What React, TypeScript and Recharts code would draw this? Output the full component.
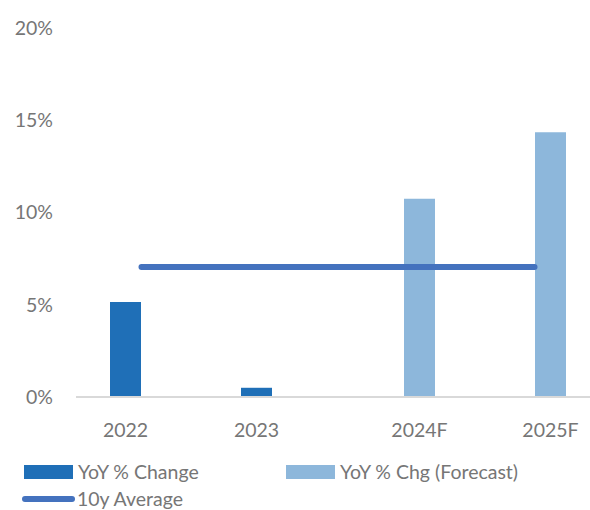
import React from 'react';
import { ComposedChart, Bar, Line, XAxis, YAxis } from 'recharts';

const categories = ['2022', '2023', '2024F', '2025F'];
const yoyChange: (number | null)[] = [5.15, 0.5, null, null];
const yoyForecast: (number | null)[] = [null, null, 10.75, 14.35];
const tenYearAvg = [7.05, 7.05, 7.05, 7.05];
const yTicks = [0, 5, 10, 15, 20];
const legendLabels = ['YoY % Change', 'YoY % Chg (Forecast)', '10y Average'];

const data = categories.map((c, i) => ({
  name: c,
  actual: yoyChange[i],
  forecast: yoyForecast[i],
  avg: tenYearAvg[i],
}));

const DARK = '#1F6FB7';
const LIGHT = '#8DB7DB';
const LINE = '#4472BE';
const TEXT = '#767676';
const FONT = 'Lato, sans-serif';
const FS = 19.5;
const BAR = 31;
const GAP = 1;

const XTick = (props: any) => {
  const { x, y, payload, index } = props;
  const i = index ?? categories.indexOf(payload.value);
  const off = (BAR + GAP) / 2;
  const dx = yoyChange[i] != null ? -off : off;
  return (
    <text x={x + dx} y={y} dy="0.71em" textAnchor="middle" fill={TEXT} fontSize={FS} fontFamily={FONT}>
      {payload.value}
    </text>
  );
};

const LegendBlock = () => (
  <div style={{ position: 'absolute', left: 0, top: 440, width: 590, height: 70, fontFamily: FONT, fontSize: FS, color: TEXT, whiteSpace: 'nowrap' }}>
    <div style={{ position: 'absolute', left: 24, top: 25, width: 49, height: 14, background: DARK }} />
    <div style={{ position: 'absolute', left: 78, top: 19.5, lineHeight: '24px' }}>{legendLabels[0]}</div>
    <div style={{ position: 'absolute', left: 286, top: 25, width: 49, height: 14, background: LIGHT }} />
    <div style={{ position: 'absolute', left: 340, top: 19.5, lineHeight: '24px' }}>{legendLabels[1]}</div>
    <div style={{ position: 'absolute', left: 22, top: 55.5, width: 53, height: 6, borderRadius: 3, background: LINE }} />
    <div style={{ position: 'absolute', left: 77, top: 46.5, lineHeight: '24px' }}>{legendLabels[2]}</div>
  </div>
);

export default function App() {
  return (
    <div style={{ position: 'fixed', left: 0, top: 0, width: 590, height: 510, overflow: 'hidden', background: '#fff' }}>
      <ComposedChart
        width={600}
        height={440}
        data={data}
        margin={{ top: 28, right: 0, bottom: 0, left: 0 }}
        barSize={BAR}
        barGap={GAP}
      >
        <XAxis
          dataKey="name"
          tick={<XTick />}
          tickLine={false}
          tickSize={0}
          tickMargin={26}
          height={43}
          axisLine={{ stroke: '#D9D9D9', strokeWidth: 2 }}
          interval={0}
        />
        <YAxis
          domain={[0, 20]}
          ticks={yTicks}
          width={76}
          tickLine={false}
          axisLine={false}
          tickSize={0}
          tickMargin={23}
          tickFormatter={(v: number) => `${v}%`}
          tick={{ fill: TEXT, fontSize: FS, fontFamily: FONT }}
        />
        <Bar dataKey="actual" name={legendLabels[0]} fill={DARK} isAnimationActive={false} />
        <Bar dataKey="forecast" name={legendLabels[1]} fill={LIGHT} isAnimationActive={false} />
        <Line
          dataKey="avg"
          name={legendLabels[2]}
          stroke={LINE}
          strokeWidth={6}
          strokeLinecap="round"
          dot={false}
          activeDot={false}
          isAnimationActive={false}
        />
      </ComposedChart>
      <LegendBlock />
    </div>
  );
}
